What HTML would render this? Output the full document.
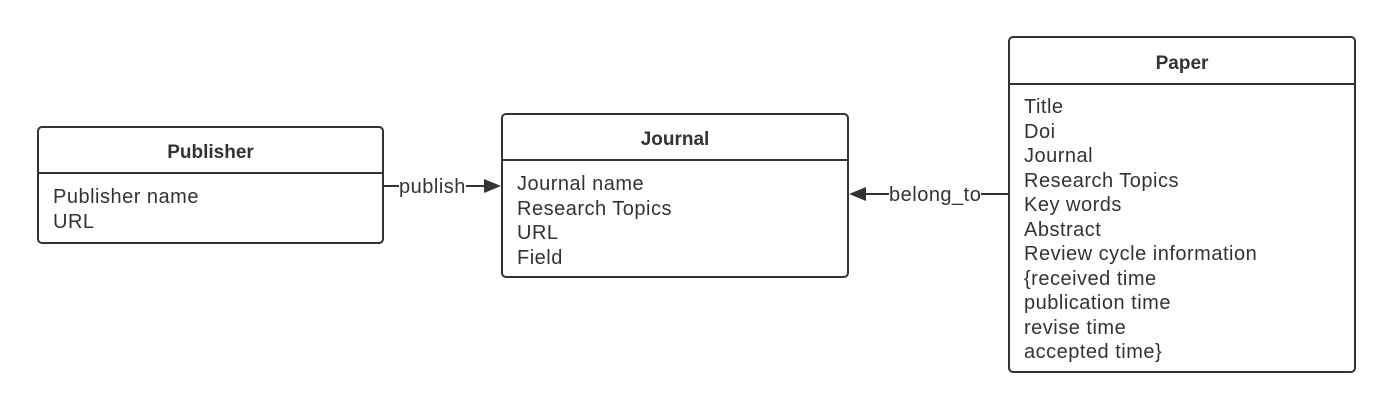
<!DOCTYPE html>
<html><head><style>
html,body{margin:0;padding:0;background:#fff;}
body{width:1392px;height:409px;position:relative;overflow:hidden;font-family:"Liberation Sans","DejaVu Sans",sans-serif;color:#333;}
.box{position:absolute;border:2px solid #333;border-radius:5px;box-sizing:border-box;background:#fff;}
.hd{position:absolute;left:0;right:0;top:0;border-bottom:2px solid #333;text-align:center;font-weight:bold;font-size:19px;box-sizing:border-box;padding-top:2px;}
.bd{position:absolute;left:14px;font-size:20px;letter-spacing:0.5px;line-height:24.5px;white-space:pre;}
.lbl{position:absolute;font-size:20px;letter-spacing:0.5px;background:#fff;line-height:22px;}
</style></head><body>
<div class="box" style="left:37px;top:126px;width:347px;height:118px">
 <div class="hd" style="height:46px;line-height:46px">Publisher</div>
 <div class="bd" style="top:57px">Publisher name
URL</div>
</div>
<div class="box" style="left:501px;top:113px;width:348px;height:165px">
 <div class="hd" style="height:46px;line-height:46px">Journal</div>
 <div class="bd" style="top:57px">Journal name
Research Topics
URL
Field</div>
</div>
<div class="box" style="left:1008px;top:36px;width:348px;height:337px">
 <div class="hd" style="height:47px;line-height:47px">Paper</div>
 <div class="bd" style="top:57px">Title
Doi
Journal
Research Topics
Key words
Abstract
Review cycle information
{received time
publication time
revise time
accepted time}</div>
</div>
<svg style="position:absolute;left:0;top:0" width="1392" height="409">
 <line x1="384" y1="186" x2="486" y2="186" stroke="#333" stroke-width="2"/>
 <polygon points="501,186 484,179 484,193" fill="#333"/>
 <line x1="866" y1="194" x2="1008" y2="194" stroke="#333" stroke-width="2"/>
 <polygon points="849,194 866,187 866,201" fill="#333"/>
</svg>
<div class="lbl" style="left:399px;top:176px">publish</div>
<div class="lbl" style="left:889px;top:184px">belong_to</div>
</body></html>
